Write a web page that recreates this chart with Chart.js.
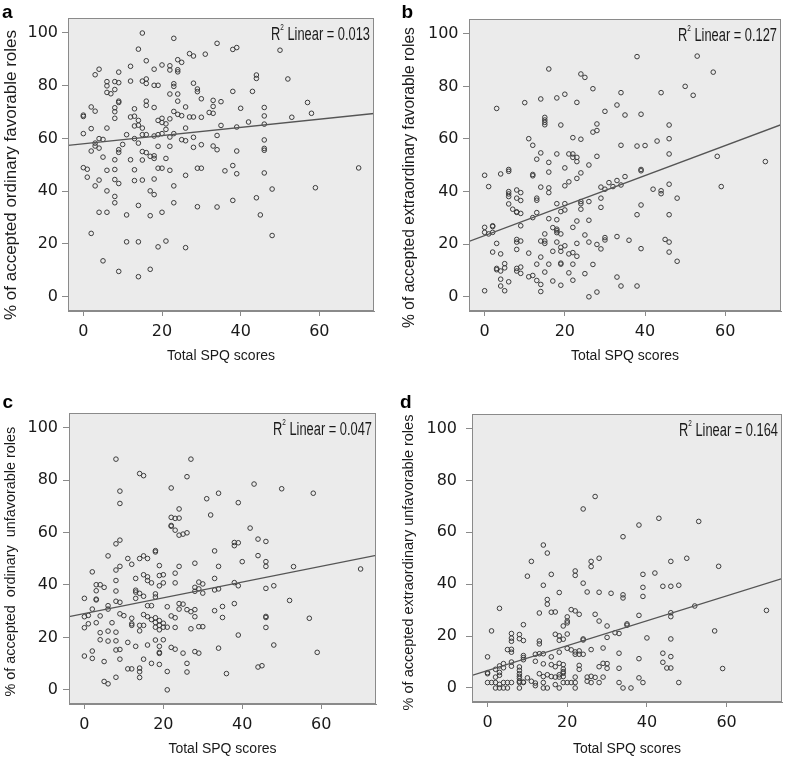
<!DOCTYPE html>
<html><head><meta charset="utf-8">
<script src="https://cdn.jsdelivr.net/npm/chart.js@4.4.1/dist/chart.umd.min.js"></script>
<style>
html,body{margin:0;padding:0;background:#fff;}
#wrap{position:relative;width:787px;height:762px;overflow:hidden;background:#fff;}
.pane{position:absolute;}
.pane canvas{display:block;}
</style></head><body>
<div id="wrap">
<div class="pane" style="left:0;top:0;"><canvas id="cA" width="393" height="381"></canvas></div>
<div class="pane" style="left:393px;top:0;"><canvas id="cB" width="394" height="381"></canvas></div>
<div class="pane" style="left:0;top:381px;"><canvas id="cC" width="393" height="381"></canvas></div>
<div class="pane" style="left:393px;top:381px;"><canvas id="cD" width="394" height="381"></canvas></div>
</div>
<script>
// ---------- data ----------
const panelLetters = ['a', 'b', 'c', 'd'];
const xTitle = 'Total SPQ scores';
const yTitles = [
  '% of accepted ordinary favorable roles',
  '% of accepted extraordinary favorable roles',
  '% of accepted  ordinary  unfavorable roles',
  '% of accepted extraordinary unfavorable roles'
];
const xTickValues = [0, 20, 40, 60];
const yTickValues = [0, 20, 40, 60, 80, 100];
const r2Values = ['0.013', '0.127', '0.047', '0.164'];
const fitIntercepts = [57.97, 23.3, 29.1, 6.7];
const fitSlopes = [0.155, 0.57, 0.30, 0.48];

// [Total SPQ score, % accepted]
const ordinaryFavorable = [
[15,99.9],[23,97.9],[34,96.0],[38,93.7],[39,94.4],[14,93.8],[50,93.4],[27,92.1],[28,91.2],[31,91.9],
[16,89.4],[24,89.8],[25,88.8],[12,87.3],[20,87.8],[22,87.5],[22,85.9],[24,86.0],[24,85.2],[18,86.2],
[4,86.2],[3,84.1],[9,85.1],[44,84.0],[44,82.7],[52,82.5],[12,81.7],[15,81.7],[16,82.5],[16,80.8],
[18,80.1],[19,80.1],[6,81.5],[8,81.5],[9,81.1],[6,79.9],[8,78.5],[6,77.4],[7,76.9],[23,80.7],
[23,79.7],[28,80.9],[29,78.7],[29,77.7],[22,76.8],[24,76.8],[38,77.8],[43,77.8],[30,75.0],[33,74.4],
[35,73.9],[9,74.1],[9,73.6],[16,74.1],[16,72.5],[24,74.1],[57,73.6],[2,71.9],[3,70.3],[8,71.6],
[8,70.1],[8,67.6],[13,71.2],[18,71.7],[26,71.9],[23,70.2],[33,72.1],[33,69.5],[32,69.8],[40,71.4],
[46,71.7],[46,68.5],[46,65.4],[58,69.5],[53,68.0],[0,68.8],[0,68.3],[12,68.1],[13,68.4],[14,66.8],
[13,64.7],[14,65.0],[19,66.8],[20,67.6],[21,65.5],[20,66.0],[22,67.4],[24,69.1],[25,68.6],[27,68.1],
[28,68.1],[30,68.0],[35,64.9],[39,64.3],[42,66.2],[2,63.7],[6,63.9],[15,63.9],[21,63.4],[26,63.9],
[0,61.8],[11,61.4],[13,59.9],[15,61.4],[16,61.4],[18,60.9],[19,61.4],[20,61.8],[22,60.5],[23,61.8],
[34,61.1],[4,59.9],[5,59.6],[3,58.2],[3,57.1],[2,55.2],[4,56.3],[10,57.7],[9,55.7],[9,54.7],
[14,58.2],[28,60.4],[25,59.5],[26,59.1],[46,59.4],[19,57.0],[22,57.0],[28,56.6],[30,57.6],[33,57.1],
[34,55.7],[39,55.2],[46,56.2],[46,55.5],[5,52.9],[8,51.9],[12,51.9],[15,55.0],[16,54.6],[17,53.2],
[18,53.4],[18,52.4],[15,51.8],[21,52.4],[0,48.9],[1,48.3],[1,45.3],[6,47.9],[8,48.2],[8,44.4],
[9,42.9],[13,48.1],[13,44.0],[15,44.2],[4,44.2],[3,42.0],[6,40.1],[18,44.6],[19,48.7],[20,48.7],
[22,47.9],[17,40.1],[18,38.7],[23,42.0],[26,46.0],[29,48.7],[30,48.7],[36,47.7],[38,49.7],[39,46.6],
[46,46.9],[48,40.8],[59,41.3],[70,48.8],[8,38.0],[8,35.6],[14,34.6],[23,35.6],[4,32.0],[6,32.0],
[11,31.0],[17,30.7],[20,32.0],[29,34.1],[34,34.0],[38,36.5],[44,37.5],[45,31.0],[2,24.0],[11,20.8],
[14,20.8],[21,21.1],[19,18.9],[26,18.6],[48,23.2],[5,13.6],[9,9.6],[17,10.4],[14,7.6]
];

const extraordinaryFavorable = [
[3,71.6],[10,73.8],[14,75.2],[16,86.6],[18,75.6],[20,77.0],[23,73.9],[24,84.7],[25,83.4],[27,79.1],
[34,77.6],[33,72.9],[30,70.5],[35,69.1],[39,69.4],[38,91.3],[44,77.6],[50,80.0],[52,76.6],[53,91.5],
[57,85.4],[15,68.2],[15,67.2],[15,66.3],[15,65.4],[19,65.3],[28,65.7],[28,63.2],[27,62.6],[46,65.3],
[11,60.1],[12,57.6],[22,60.5],[24,59.9],[34,57.6],[38,57.3],[40,57.5],[43,59.2],[46,60.1],[46,54.3],
[58,53.4],[14,54.7],[13,52.3],[16,51.1],[18,54.3],[21,54.3],[22,54.3],[22,53.0],[23,53.0],[23,51.4],
[28,53.4],[26,50.1],[20,49.0],[6,48.4],[39,48.4],[70,51.4],[0,46.2],[1,41.9],[4,46.7],[6,47.7],
[12,46.5],[12,46.0],[16,47.4],[23,45.0],[24,47.1],[21,43.7],[20,42.2],[14,41.7],[16,41.4],[16,39.6],
[35,45.7],[33,44.2],[31,43.4],[34,42.5],[32,41.9],[29,41.7],[30,40.9],[39,47.9],[42,40.9],[44,40.3],
[44,39.2],[46,42.8],[48,37.5],[59,41.9],[6,40.0],[6,39.1],[6,38.1],[6,35.3],[8,40.6],[9,39.6],
[8,37.5],[9,36.6],[7,33.3],[8,32.1],[8,32.3],[9,31.7],[13,37.5],[13,36.7],[13,32.0],[12,30.1],
[18,35.4],[20,35.4],[19,32.4],[20,33.0],[24,36.2],[24,35.4],[24,33.3],[26,36.2],[29,37.5],[29,34.0],
[39,34.9],[38,31.2],[46,31.2],[9,27.0],[16,29.7],[18,29.3],[23,28.8],[26,29.1],[22,26.4],[17,26.3],
[18,25.7],[18,25.1],[18,24.4],[19,23.9],[15,23.9],[0,26.4],[0,24.5],[1,23.9],[2,27.0],[2,26.7],
[2,24.5],[25,23.5],[33,22.9],[30,22.5],[30,21.6],[36,21.5],[45,21.8],[46,20.8],[3,20.3],[8,21.8],
[8,20.8],[9,21.2],[14,21.2],[15,21.2],[15,20.3],[18,20.8],[19,18.8],[20,19.4],[23,20.3],[26,20.8],
[28,19.9],[29,18.2],[39,18.3],[8,18.0],[2,17.0],[4,16.3],[11,16.6],[17,17.3],[19,17.3],[21,16.3],
[22,16.8],[23,15.4],[14,15.1],[46,17.0],[48,13.5],[5,12.6],[5,11.0],[3,10.8],[3,10.3],[4,9.8],
[8,10.8],[9,11.3],[8,9.8],[9,8.9],[13,12.4],[16,12.4],[19,12.8],[19,12.4],[22,12.4],[27,12.3],
[15,9.4],[21,9.1],[25,8.8],[11,7.6],[12,8.1],[13,6.2],[4,6.7],[6,5.7],[14,4.7],[17,6.0],
[19,4.4],[22,6.3],[33,7.5],[34,4.1],[38,4.1],[4,4.1],[0,2.3],[5,2.3],[14,2.0],[28,1.8],[26,0]
];

const ordinaryUnfavorable = [
[8,88.0],[27,88.0],[14,82.5],[15,81.7],[26,81.3],[9,75.8],[22,77.0],[43,78.5],[50,76.7],[58,75.0],
[34,75.0],[31,72.9],[39,71.4],[9,71.1],[24,69.0],[22,65.8],[23,65.4],[24,65.5],[32,66.7],[22,62.7],
[22,62.4],[23,60.9],[24,59.0],[25,59.4],[26,59.9],[42,61.7],[8,55.7],[9,57.1],[44,57.5],[46,56.6],
[38,56.2],[39,56.1],[38,55.0],[18,53.1],[18,52.6],[33,53.0],[6,51.1],[11,50.1],[14,50.1],[15,51.1],
[16,50.1],[44,51.2],[46,48.9],[46,47.1],[40,48.9],[2,45.0],[8,45.7],[9,47.1],[12,47.9],[19,47.4],
[24,47.1],[23,44.5],[28,48.3],[34,47.1],[53,47.0],[70,46.1],[13,42.5],[8,41.7],[15,43.9],[16,43.1],
[16,41.7],[17,40.8],[19,43.6],[20,43.9],[20,40.8],[19,39.7],[23,40.8],[29,41.1],[30,40.4],[33,42.5],
[38,40.9],[39,39.7],[48,39.7],[46,38.7],[3,40.1],[4,40.1],[5,39.1],[3,37.8],[8,37.7],[13,38.0],
[13,37.3],[14,36.8],[15,35.7],[18,36.6],[18,35.4],[28,39.1],[29,38.5],[28,37.6],[30,36.9],[33,38.1],
[34,38.5],[0,34.9],[3,34.6],[3,34.3],[8,33.8],[9,33.4],[13,34.9],[6,32.1],[6,30.8],[2,30.8],
[16,32.1],[17,32.1],[21,31.7],[24,32.9],[25,32.7],[24,30.8],[26,30.6],[27,29.8],[28,30.6],[33,30.2],
[35,31.8],[38,32.9],[52,34.1],[0,27.9],[1,28.4],[4,28.2],[9,29.0],[10,28.3],[15,28.7],[16,27.9],
[17,26.8],[18,27.5],[18,25.7],[19,26.4],[20,25.4],[19,24.6],[20,23.9],[21,23.9],[18,23.9],[19,22.9],
[22,28.2],[23,27.5],[28,27.9],[35,27.6],[46,28.0],[46,27.6],[57,27.3],[12,27.3],[12,25.2],[12,24.6],
[14,24.6],[15,24.6],[3,25.6],[1,25.2],[0,23.7],[7,25.6],[23,23.8],[27,23.3],[29,24.1],[30,24.1],
[46,23.8],[4,21.8],[6,22.4],[8,22.0],[14,22.5],[39,20.9],[4,19.1],[6,18.6],[8,18.7],[11,18.1],
[13,16.6],[16,17.1],[18,19.0],[20,19.1],[19,16.6],[22,16.2],[23,15.5],[19,14.3],[19,13.9],[25,14.0],
[28,14.6],[29,14.0],[34,15.9],[48,17.1],[59,14.3],[8,15.2],[9,15.4],[2,14.8],[2,12.0],[0,12.9],
[5,10.8],[9,11.7],[15,11.7],[17,10.1],[19,9.7],[26,10.1],[26,6.8],[11,8.0],[12,8.0],[14,8.3],
[14,6.9],[14,4.7],[21,7.0],[36,6.2],[44,8.7],[45,9.2],[8,4.8],[5,3.2],[6,2.3],[21,0]
];

const extraordinaryUnfavorable = [
[27,73.8],[24,69.0],[43,65.4],[38,62.8],[53,64.2],[34,58.3],[14,55.1],[15,52.0],[28,50.0],[50,50.0],
[26,48.8],[26,46.8],[11,48.8],[46,48.8],[58,46.9],[10,43.1],[16,43.8],[22,45.1],[22,43.4],[14,39.6],
[24,40.4],[42,44.3],[39,43.8],[39,38.8],[39,35.3],[44,39.2],[46,39.2],[48,39.6],[18,36.8],[25,37.0],
[28,36.9],[31,36.5],[34,35.9],[34,34.7],[15,34.1],[15,32.3],[3,30.7],[13,28.9],[16,29.2],[17,29.3],
[21,30.2],[22,29.7],[23,28.4],[20,27.4],[20,25.8],[20,25.1],[27,28.4],[28,25.8],[30,23.9],[38,28.0],
[46,29.0],[46,27.5],[52,31.6],[70,29.9],[9,24.4],[1,22.0],[19,23.9],[17,20.7],[18,20.1],[18,18.4],
[19,18.8],[20,20.8],[24,18.9],[24,18.5],[32,21.3],[33,21.0],[35,24.7],[35,24.2],[30,19.5],[40,19.3],
[46,18.9],[57,22.0],[8,20.6],[8,19.0],[9,18.3],[6,21.0],[6,19.2],[6,18.0],[13,18.1],[13,17.0],
[5,14.8],[6,14.9],[6,13.8],[0,12.0],[9,12.5],[9,11.7],[9,10.9],[12,13.0],[13,13.2],[14,13.2],
[16,12.0],[18,13.8],[20,15.3],[21,14.7],[22,13.9],[23,14.3],[23,13.0],[24,13.0],[22,13.0],[26,14.8],
[29,15.4],[33,13.4],[38,11.3],[44,13.4],[46,12.1],[12,10.3],[14,9.3],[16,9.0],[17,8.2],[4,9.4],
[3,8.5],[2,7.2],[4,7.8],[6,10.0],[6,8.4],[8,8.1],[8,6.8],[18,9.5],[19,9.0],[19,7.3],
[19,6.3],[23,8.7],[23,7.2],[29,9.5],[30,9.4],[30,7.6],[28,8.2],[33,7.6],[44,9.9],[45,7.7],
[46,7.7],[59,7.5],[0,5.9],[0,5.5],[3,6.0],[2,4.2],[3,4.9],[8,5.5],[8,4.5],[8,3.7],
[10,3.9],[13,5.5],[14,4.4],[15,5.1],[16,4.4],[17,4.2],[18,5.1],[18,4.2],[19,5.7],[19,4.4],
[22,4.2],[25,4.2],[26,4.5],[27,4.1],[29,4.2],[38,3.9],[0,2.1],[1,2.1],[2,2.1],[3,1.4],
[4,2.1],[5,2.1],[6,2.1],[8,2.6],[8,2.1],[9,2.3],[9,2.1],[11,2.6],[12,1.9],[12,0.9],
[14,2.1],[17,1.3],[19,2.1],[20,2.1],[21,2.1],[22,2.1],[25,2.6],[26,2.1],[28,2.1],[33,2.1],
[39,2.1],[48,2.1],[2,0],[3,0],[4,0],[5,0],[8,0],[14,0],[15,0],[18,0],[22,0],[34,0],[36,0]
];

const panelSeries = [ordinaryFavorable, extraordinaryFavorable, ordinaryUnfavorable, extraordinaryUnfavorable];

// ---------- layout / style (canvas-local pixels) ----------
const canvasIds = ['cA', 'cB', 'cC', 'cD'];
const layoutSpec = [
  {yAxisW: 68, padTop: 18, padRight: 19, xAxisH: 70, xTitleDrop: 45, yTitleSize: 17.0, yTitleCx: 11.5, yTitleCy: 175, yTickPad: 4, letterX: 2, letterY: 18},
  {yAxisW: 76, padTop: 19, padRight: 6,  xAxisH: 70, xTitleDrop: 45, yTitleSize: 15.6, yTitleCx: 17,   yTitleCy: 177.5, yTickPad: 4.5, letterX: 8.5, letterY: 18},
  {yAxisW: 69, padTop: 32, padRight: 17, xAxisH: 58, xTitleDrop: 45, yTitleSize: 14.4, yTitleCx: 11,   yTitleCy: 180.7, yTickPad: 5, letterX: 2.5, letterY: 27},
  {yAxisW: 79, padTop: 33, padRight: 3,  xAxisH: 60, xTitleDrop: 47, yTitleSize: 14.5, yTitleCx: 16,   yTitleCy: 181.5, yTickPad: 9, letterX: 7, letterY: 27}
];
const X_MIN = -3.9, X_MAX = 73.9, Y_MIN = -5.4, Y_MAX = 105.6;
const FRAME = '#8a8a8a';
const PLOT_BG = '#ebebeb';
const INK = '#1a1a1a';
const TICK_FONT = {family: '"DejaVu Sans", Verdana, sans-serif', size: 16};
const XTITLE_FONT = {family: '"Liberation Sans", Arial, sans-serif', size: 14};

const framePlugin = {
  id: 'frameBg',
  beforeDraw(chart) {
    const {ctx, chartArea: a} = chart;
    ctx.save();
    ctx.fillStyle = PLOT_BG;
    ctx.fillRect(a.left, a.top, a.right - a.left, a.bottom - a.top);
    ctx.restore();
  },
  afterDraw(chart, args, opts) {
    const {ctx, chartArea: a} = chart;
    ctx.save();
    ctx.strokeStyle = FRAME;
    ctx.lineWidth = 1;
    const l = Math.round(a.left) + 0.5, t = Math.round(a.top) + 0.5;
    const r = Math.round(a.right) - 0.5, b = Math.round(a.bottom) - 0.5;
    ctx.strokeRect(l, t, r - l, b - t);
    // R² annotation
    const main = 'R', sup = '2', rest = ' Linear = ' + opts.r2;
    const fs = 18;
    ctx.fillStyle = INK;
    ctx.textBaseline = 'alphabetic';
    ctx.font = fs + 'px "Liberation Sans", Arial, sans-serif';
    const wR = ctx.measureText(main).width, wRest = ctx.measureText(rest).width;
    ctx.font = '9px "Liberation Sans", Arial, sans-serif';
    const wS = ctx.measureText(sup).width;
    const total = wR + wS + wRest;
    const targetW = 99;
    const sx = targetW / total;
    ctx.translate(a.right - 4 - targetW, a.top + 21.5);
    ctx.scale(sx, 1);
    ctx.font = fs + 'px "Liberation Sans", Arial, sans-serif';
    ctx.fillText(main, 0, 0);
    ctx.fillText(rest, wR + wS, 0);
    ctx.font = '9px "Liberation Sans", Arial, sans-serif';
    ctx.fillText(sup, wR, -10);
    ctx.restore();
    // y axis title
    ctx.save();
    ctx.fillStyle = INK;
    ctx.font = opts.yTitleSize + 'px "Liberation Sans", Arial, sans-serif';
    ctx.textAlign = 'center';
    ctx.textBaseline = 'middle';
    ctx.translate(opts.yTitleCx, opts.yTitleCy);
    ctx.rotate(-Math.PI / 2);
    ctx.fillText(opts.yTitle, 0, 0);
    ctx.restore();
    // panel letter
    ctx.save();
    ctx.fillStyle = '#000';
    ctx.font = 'bold 19px "Liberation Sans", Arial, sans-serif';
    ctx.textBaseline = 'alphabetic';
    ctx.fillText(opts.letter, opts.lx, opts.ly);
    ctx.restore();
  }
};

panelSeries.forEach((series, i) => {
  const L = layoutSpec[i];
  const b0 = fitIntercepts[i], b1 = fitSlopes[i];
  const fitLine = [X_MIN, X_MAX].map(x => ({x, y: b0 + b1 * x}));
  const xTitleLH = XTITLE_FONT.size * 1.2;
  new Chart(document.getElementById(canvasIds[i]), {
    type: 'scatter',
    data: {
      datasets: [
        {
          type: 'line',
          data: fitLine,
          borderColor: '#555555',
          borderWidth: 1.3,
          pointRadius: 0,
          fill: false,
          tension: 0,
          order: 0
        },
        {
          data: series.map(p => ({x: p[0], y: p[1]})),
          pointStyle: 'circle',
          pointRadius: 2.3,
          borderWidth: 1,
          borderColor: '#3c3c3c',
          backgroundColor: 'rgba(0,0,0,0)',
          order: 1
        }
      ]
    },
    options: {
      responsive: false,
      devicePixelRatio: 1,
      animation: false,
      events: [],
      layout: {padding: {top: L.padTop, right: L.padRight, bottom: 0, left: 0}},
      plugins: {
        legend: {display: false},
        tooltip: {enabled: false},
        frameBg: {
          r2: r2Values[i], letter: panelLetters[i], lx: L.letterX, ly: L.letterY,
          yTitle: yTitles[i], yTitleSize: L.yTitleSize, yTitleCx: L.yTitleCx, yTitleCy: L.yTitleCy
        }
      },
      scales: {
        x: {
          type: 'linear',
          min: X_MIN, max: X_MAX,
          afterBuildTicks: s => { s.ticks = xTickValues.map(v => ({value: v})); },
          afterFit: s => { s.height = L.xAxisH; },
          ticks: {font: TICK_FONT, color: INK, padding: 6, callback: v => String(v), maxRotation: 0},
          grid: {display: true, drawOnChartArea: false, drawTicks: true, tickLength: 5, color: FRAME},
          border: {display: true, color: FRAME, width: 1},
          title: {
            display: true, text: xTitle, color: INK, font: XTITLE_FONT,
            padding: {top: 0, bottom: L.xAxisH - L.xTitleDrop - xTitleLH / 2}
          }
        },
        y: {
          type: 'linear',
          min: Y_MIN, max: Y_MAX,
          afterBuildTicks: s => { s.ticks = yTickValues.map(v => ({value: v})); },
          afterFit: s => { s.width = L.yAxisW; },
          ticks: {font: TICK_FONT, color: INK, padding: L.yTickPad, callback: v => String(v)},
          grid: {display: true, drawOnChartArea: false, drawTicks: true, tickLength: 6, color: FRAME},
          border: {display: true, color: FRAME, width: 1},
          title: {display: false}
        }
      }
    },
    plugins: [framePlugin]
  });
});
</script>
</body></html>
